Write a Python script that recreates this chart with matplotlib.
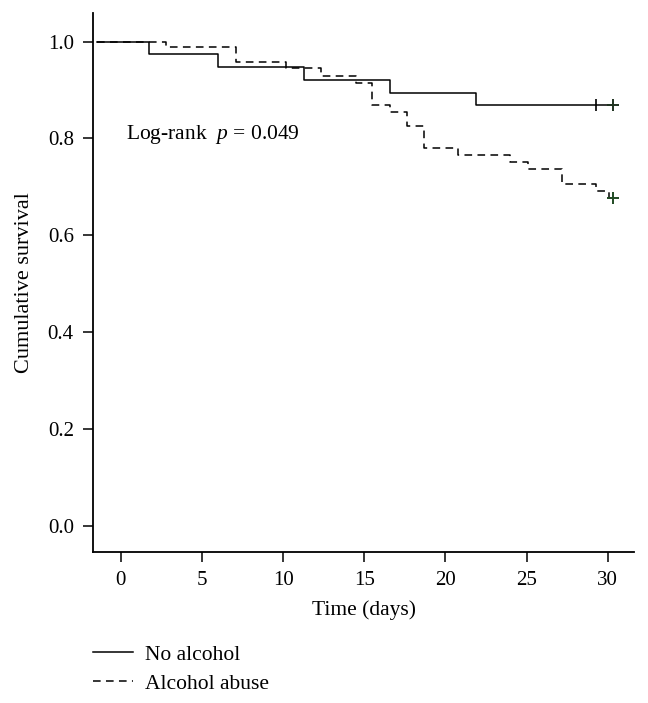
import numpy as np
import matplotlib.pyplot as plt

plt.rcParams['font.family'] = 'Liberation Serif'
plt.rcParams['mathtext.fontset'] = 'custom'
plt.rcParams['mathtext.it'] = 'Liberation Serif:italic'
plt.rcParams['mathtext.rm'] = 'Liberation Serif'

# Kaplan-Meier steps
no_alc_time = [-1.5, 1.76, 6.0, 11.3, 16.6, 21.9, 30.3]
no_alc_surv = [1.0, 0.975, 0.947, 0.921, 0.894, 0.868, 0.868]
no_alc_cens_time = [29.3, 30.3]
no_alc_cens_surv = [0.868, 0.868]

abuse_time = [-1.5, 2.78, 7.07, 10.2, 12.3, 14.5, 15.5, 16.6, 17.6, 18.7,
              20.8, 24.0, 25.1, 27.2, 29.3, 30.1, 30.3]
abuse_surv = [1.0, 0.988, 0.957, 0.945, 0.928, 0.914, 0.870, 0.855, 0.825, 0.780,
              0.766, 0.751, 0.736, 0.706, 0.691, 0.677, 0.677]
abuse_cens_time = [30.3]
abuse_cens_surv = [0.677]

fig = plt.figure(figsize=(6.48, 7.03), dpi=100)
ax = fig.add_axes([0.144, 0.215, 0.834, 0.7665])

ax.plot(no_alc_time, no_alc_surv, drawstyle='steps-post', color='black', lw=1.1,
        label='No alcohol')
ax.plot(abuse_time, abuse_surv, drawstyle='steps-post', color='black', lw=1.1,
        dashes=(5, 3.5), label='Alcohol abuse')
ax.plot(no_alc_cens_time[:1], no_alc_cens_surv[:1], ls='none', marker='|',
        color='black', ms=8, mew=1.2)
ax.plot(no_alc_cens_time[1:], no_alc_cens_surv[1:], ls='none', marker='+',
        color='#1f3320', ms=8, mew=1.4)
ax.plot(abuse_cens_time, abuse_cens_surv, ls='none', marker='+',
        color='#1f4a22', ms=8, mew=1.4)

ax.text(0.33, 0.809, r'Log-rank  $p$ = 0.049', fontsize=15.5, va='center', ha='left')

ax.set_xlim(-1.7, 31.6)
ax.set_ylim(-0.054, 1.059)
ax.set_xticks([0, 5, 10, 15, 20, 25, 30])
ax.set_yticks([0.0, 0.2, 0.4, 0.6, 0.8, 1.0])
ax.set_yticklabels(['0.0', '0.2', '0.4', '0.6', '0.8', '1.0'])
ax.tick_params(direction='out', length=7, width=1.1, labelsize=15, pad=7)
for s in ['top', 'right']:
    ax.spines[s].set_visible(False)
for s in ['left', 'bottom']:
    ax.spines[s].set_linewidth(1.3)

ax.set_xlabel('Time (days)', fontsize=15.5, labelpad=7)
ax.set_ylabel('Cumulative survival', fontsize=16, labelpad=10)

fig.legend(loc='upper left', bbox_to_anchor=(0.143, 0.083), frameon=False,
           fontsize=15.5, handlelength=1.86, handletextpad=0.56, labelspacing=0.42,
           borderpad=0, borderaxespad=0)

fig.savefig('out.png', dpi=100)
